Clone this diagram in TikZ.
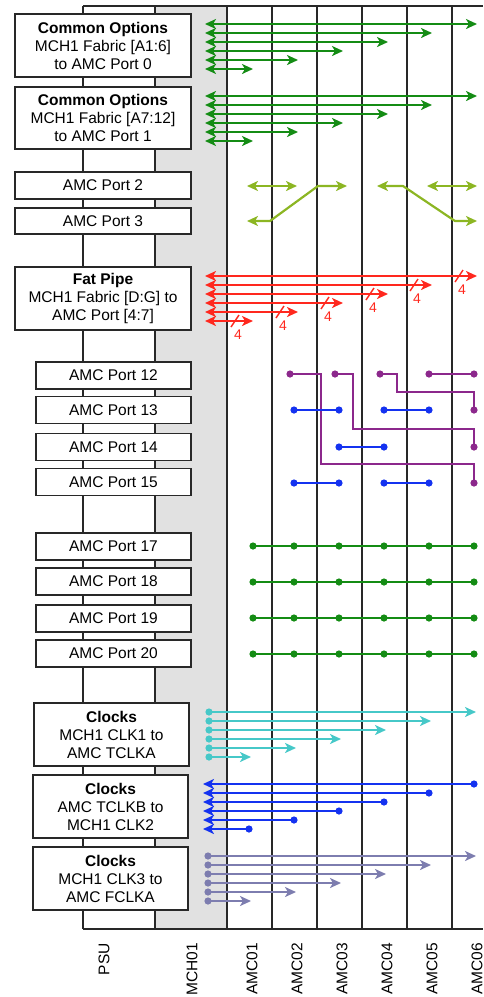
\documentclass[tikz,border=0pt]{standalone}
\usepackage{fontspec}
\setmainfont{Liberation Sans}
\usetikzlibrary{arrows.meta}
\definecolor{cgreen}{RGB}{20,140,20}
\definecolor{clime}{RGB}{140,182,35}
\definecolor{cred}{RGB}{255,40,30}
\definecolor{cpurple}{RGB}{140,40,140}
\definecolor{cblue}{RGB}{20,50,240}
\definecolor{ccyan}{RGB}{70,200,200}
\definecolor{cslate}{RGB}{125,125,175}
\definecolor{cgrayfill}{RGB}{225,225,225}
\definecolor{cline}{RGB}{40,40,40}
\tikzset{
  grid/.style={draw=cline, line width=1.3pt},
  box/.style={draw=cline, line width=1.3pt, fill=white, align=center, inner sep=0pt,
    font=\fontsize{15.5}{18}\selectfont},
  collabel/.style={rotate=90, anchor=east, inner sep=0pt, font=\fontsize{15.5}{18}\selectfont},
  conn/.style={line width=2.2pt},
  tipR/.style={-{Stealth[length=11pt,width=10pt,inset=3pt]}},
  tipL/.style={{Stealth[length=11pt,width=10pt,inset=3pt]}-},
  tipLR/.style={{Stealth[length=11pt,width=10pt,inset=3pt]}-{Stealth[length=11pt,width=10pt,inset=3pt]}},
  four/.style={text=cred, inner sep=0pt, font=\fontsize{14}{16}\selectfont},
}
\begin{document}
\begin{tikzpicture}[x=1pt,y=-1pt]
\useasboundingbox (0,0) rectangle (483,997);
% background columns
\fill[cgrayfill] (155,6) rectangle (227,929);
\foreach \x in {83,155,227,272,317,362,407,452} \draw[grid] (\x,6) -- (\x,929);
\draw[grid] (83,6) -- (483,6);
\draw[grid] (83,929) -- (483,929);
% boxes
\node[box, minimum width=176pt, minimum height=63pt] (b1) at (103,45.5) {\textbf{Common Options}\\MCH1 Fabric [A1:6]\\to AMC Port 0};
\node[box, minimum width=176pt, minimum height=62pt] (b2) at (103,118) {\textbf{Common Options}\\MCH1 Fabric [A7:12]\\to AMC Port 1};
\node[box, minimum width=176pt, minimum height=27pt] (p2) at (103,185.5) {AMC Port 2};
\node[box, minimum width=176pt, minimum height=26pt] (p3) at (103,221) {AMC Port 3};
\node[box, minimum width=176pt, minimum height=63pt] (fp) at (103,298.5) {\textbf{Fat Pipe}\\MCH1 Fabric [D:G] to\\AMC Port [4:7]};
\node[box, minimum width=155pt, minimum height=27pt] (p12) at (113.5,375.5) {AMC Port 12};
\node[box, minimum width=155pt, minimum height=27pt] (p13) at (113.5,410) {AMC Port 13};
\node[box, minimum width=155pt, minimum height=27pt] (p14) at (113.5,447) {AMC Port 14};
\node[box, minimum width=155pt, minimum height=27pt] (p15) at (113.5,482) {AMC Port 15};
\node[box, minimum width=155pt, minimum height=27pt] (p17) at (113.5,546.5) {AMC Port 17};
\node[box, minimum width=155pt, minimum height=27pt] (p18) at (113.5,581.5) {AMC Port 18};
\node[box, minimum width=155pt, minimum height=27pt] (p19) at (113.5,618.5) {AMC Port 19};
\node[box, minimum width=155pt, minimum height=27pt] (p20) at (113.5,653.5) {AMC Port 20};
\node[box, minimum width=155pt, minimum height=63pt] (c1) at (111.5,734.5) {\textbf{Clocks}\\MCH1 CLK1 to\\AMC TCLKA};
\node[box, minimum width=155pt, minimum height=63pt] (c2) at (110.5,806.5) {\textbf{Clocks}\\AMC TCLKB to\\MCH1 CLK2};
\node[box, minimum width=155pt, minimum height=63pt] (c3) at (110.5,878.5) {\textbf{Clocks}\\MCH1 CLK3 to\\AMC FCLKA};
% column labels
\node[collabel] (lpsu) at (104,943) {PSU};
\node[collabel] (lmch) at (192,943) {MCH01};
\node[collabel] (la1) at (252,943) {AMC01};
\node[collabel] (la2) at (297,943) {AMC02};
\node[collabel] (la3) at (342,943) {AMC03};
\node[collabel] (la4) at (387,943) {AMC04};
\node[collabel] (la5) at (432,943) {AMC05};
\node[collabel] (la6) at (477,943) {AMC06};
% common options
\foreach \yo in {24,96} {
  \foreach \tx [count=\k from 0] in {477,432,388,343,298,253} {
    \draw[conn, cgreen, tipLR] (205,\yo+9*\k) -- (\tx,\yo+9*\k);
  }
}
% AMC port 2/3
\draw[conn, clime, tipLR] (247,186) -- (297,186);
\draw[conn, clime, tipLR] (247,221) -- (270,221) -- (318,186) -- (347,186);
\draw[conn, clime, tipLR] (377,186) -- (403,186) -- (455,221) -- (477,221);
\draw[conn, clime, tipLR] (427,186) -- (477,186);
% fat pipe
\foreach \tx [count=\k from 0] in {477,432,388,343,298,253} {
  \draw[conn, cred, tipLR] (205,276+9*\k) -- (\tx,276+9*\k);
  \draw[line width=1.4pt, cred] (\tx-22,276+9*\k+6) -- (\tx-14,276+9*\k-6);
  \node[four] at (\tx-15,276+9*\k+14) {4};
}
% ports 12-15
\draw[conn, cpurple] (290,374) -| (321,464) -| (474,483);
\draw[conn, cpurple] (335,374) -| (353,429) -| (474,447);
\draw[conn, cpurple] (380,374) -| (397,392) -| (474,410);
\draw[conn, cpurple] (429,374) -- (474,374);
\foreach \p in {(290,374),(335,374),(380,374),(429,374),(474,374),(474,410),(474,447),(474,483)}
  \fill[cpurple] \p circle (3.6pt);
\draw[conn, cblue] (294,410) -- (339,410);
\draw[conn, cblue] (384,410) -- (429,410);
\draw[conn, cblue] (339,447) -- (384,447);
\draw[conn, cblue] (294,483) -- (339,483);
\draw[conn, cblue] (384,483) -- (429,483);
\foreach \p in {(294,410),(339,410),(384,410),(429,410),(339,447),(384,447),(294,483),(339,483),(384,483),(429,483)}
  \fill[cblue] \p circle (3.6pt);
% ports 17-20
\foreach \yy in {546,582,618,654} {
  \draw[conn, cgreen] (253,\yy) -- (474,\yy);
  \foreach \xx in {253,294,339,384,429,474} \fill[cgreen] (\xx,\yy) circle (3.6pt);
}
% clocks
\foreach \tx [count=\k from 0] in {476,431,386,341,296,251} {
  \draw[conn, ccyan, tipR] (209,712+9*\k) -- (\tx,712+9*\k);
  \fill[ccyan] (209,712+9*\k) circle (3.6pt);
}
\foreach \tx [count=\k from 0] in {474,429,384,339,294,249} {
  \draw[conn, cblue, tipL] (203,784+9*\k) -- (\tx,784+9*\k);
  \fill[cblue] (\tx,784+9*\k) circle (3.6pt);
}
\foreach \tx [count=\k from 0] in {476,431,386,341,296,251} {
  \draw[conn, cslate, tipR] (208,856+9*\k) -- (\tx,856+9*\k);
  \fill[cslate] (208,856+9*\k) circle (3.6pt);
}
\end{tikzpicture}
\end{document}
